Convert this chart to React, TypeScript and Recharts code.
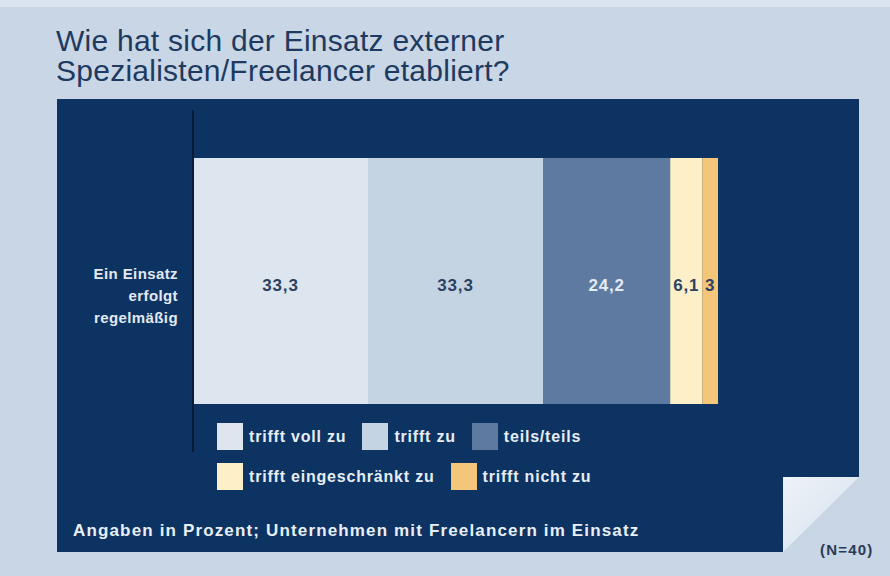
import { BarChart, Bar, XAxis, YAxis, LabelList } from 'recharts';

const categories = ['Ein Einsatz erfolgt regelmäßig'];
const seriesNames = ['trifft voll zu', 'trifft zu', 'teils/teils', 'trifft eingeschränkt zu', 'trifft nicht zu'];
const seriesKeys = ['voll', 'zu', 'teils', 'eing', 'nicht'];
const seriesValues = [33.3, 33.3, 24.2, 6.1, 3];
const seriesColors = ['#dde6ef', '#c5d4e3', '#5f7aa0', '#fdf0c9', '#f4c679'];
const labelColors = ['#2c4262', '#2c4262', '#e4ebf3', '#2c4262', '#2c4262'];
const yLabelLines = ['Ein Einsatz', 'erfolgt', 'regelmäßig'];

const data = categories.map((name) => {
  const row: Record<string, string | number> = { name };
  seriesKeys.forEach((k, i) => {
    row[k] = seriesValues[i];
  });
  return row;
});

const total = seriesValues.reduce((a, b) => a + b, 0);

const BG = '#c8d6e5';
const NAVY = '#0d3362';
const FONT = '"Liberation Sans", Arial, Helvetica, sans-serif';

const fmt = (v: number) => String(v).replace('.', ',');

const YTick = (props: any) => {
  const { y } = props;
  return (
    <text x={178} y={y - 2} textAnchor="end" fill="#e2e9f2" fontSize={15} fontWeight="bold" letterSpacing={0.4} fontFamily={FONT}>
      {yLabelLines.map((line, i) => (
        <tspan key={i} x={178} dy={i === 0 ? 0 : 22}>
          {line}
        </tspan>
      ))}
    </text>
  );
};

const makeLabel = (color: string) => (props: any) => {
  const { x, y, width, height, value } = props;
  return (
    <text
      x={x + width / 2}
      y={y + height / 2 + 10}
      textAnchor="middle"
      fill={color}
      fontSize={17}
      fontWeight="bold"
      fontFamily={FONT}
      letterSpacing={0.8}
    >
      {fmt(value)}
    </text>
  );
};

const legendRows = [
  [0, 1, 2],
  [3, 4],
];

export default function App() {
  return (
    <div style={{ position: 'absolute', left: 0, top: 0, width: 890, height: 576, background: BG, overflow: 'hidden', fontFamily: FONT }}>
      <div style={{ position: 'absolute', left: 0, top: 0, width: 890, height: 7, background: '#dbe4ee' }} />
      <div
        style={{
          position: 'absolute',
          left: 56,
          top: 26,
          fontSize: 30,
          lineHeight: '30px',
          letterSpacing: 0.25,
          color: '#1e3a60',
        }}
      >
        Wie hat sich der Einsatz externer
        <br />
        Spezialisten/Freelancer etabliert?
      </div>
      <div style={{ position: 'absolute', left: 57, top: 99, width: 802, height: 453, background: NAVY }} />
      <svg width={890} height={576} style={{ position: 'absolute', left: 0, top: 0 }}>
        <defs>
          <linearGradient id="fold" x1="0" y1="0" x2="1" y2="1">
            <stop offset="0%" stopColor="#eef3f8" />
            <stop offset="100%" stopColor="#d4e0ec" />
          </linearGradient>
        </defs>
        <rect x={783} y={477} width={80} height={80} fill={BG} />
        <polygon points="783,477 859,477 783,552" fill="url(#fold)" />
      </svg>
      <div style={{ position: 'absolute', left: 0, top: 0 }}>
        <BarChart
          width={890}
          height={576}
          data={data}
          layout="vertical"
          margin={{ top: 110, right: 172, bottom: 124, left: 57 }}
        >
          <XAxis type="number" domain={[0, total]} hide />
          <YAxis
            type="category"
            dataKey="name"
            width={136}
            axisLine={{ stroke: '#071c38', strokeWidth: 2 }}
            tickLine={false}
            tick={<YTick />}
          />
          {seriesKeys.map((k, i) => (
            <Bar key={k} dataKey={k} name={seriesNames[i]} stackId="a" fill={seriesColors[i]} barSize={246} isAnimationActive={false}>
              <LabelList dataKey={k} content={makeLabel(labelColors[i])} />
            </Bar>
          ))}
        </BarChart>
      </div>
      {legendRows.map((row, r) => (
        <div
          key={r}
          style={{ position: 'absolute', left: 217, top: 423 + r * 40, display: 'flex', alignItems: 'center', height: 27 }}
        >
          {row.map((i) => (
            <div key={i} style={{ display: 'flex', alignItems: 'center', marginRight: 16 }}>
              <div style={{ width: 26, height: 27, background: seriesColors[i], marginRight: 6 }} />
              <span style={{ color: '#e6edf5', fontSize: 16, fontWeight: 'bold', letterSpacing: 0.8 }}>{seriesNames[i]}</span>
            </div>
          ))}
        </div>
      ))}
      <div style={{ position: 'absolute', left: 73, top: 521, color: '#e9eff6', fontSize: 17, fontWeight: 'bold', letterSpacing: 1.15 }}>
        Angaben in Prozent; Unternehmen mit Freelancern im Einsatz
      </div>
      <div style={{ position: 'absolute', left: 820, top: 541, color: '#2a3a56', fontSize: 15, fontWeight: 'bold', letterSpacing: 1.2 }}>(N=40)</div>
    </div>
  );
}
